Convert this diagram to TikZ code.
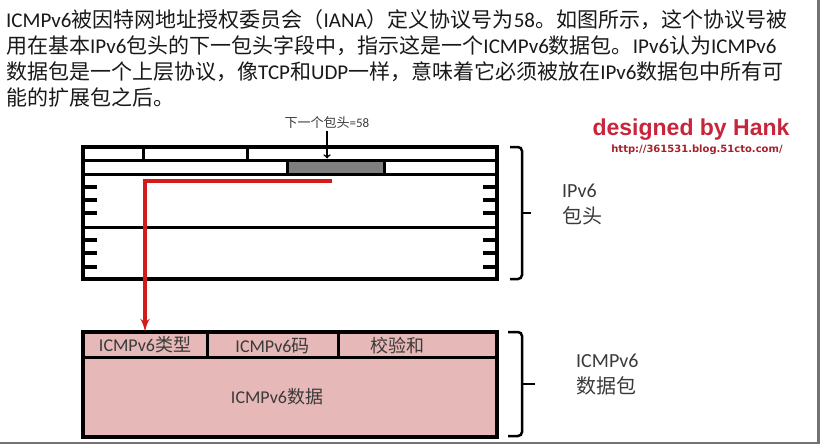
\documentclass[tikz,border=0pt]{standalone}
\usepackage{fontspec}
\setmainfont{Carlito}
\newfontfamily\cjkfont{Noto Sans CJK SC}
\newfontfamily\latfont{Carlito}
\newfontfamily\brandfont{Liberation Sans}
\newfontfamily\urlfont{DejaVu Sans}
\usepackage{tikz}
\usetikzlibrary{arrows}

% switch to the CJK face for Chinese characters, back to Carlito for Latin
\XeTeXinterchartokenstate=1
\chardef\cjkclass=7
\newcount\cjkcnt
\def\setcjkrange#1#2{\cjkcnt=#1 \loop\XeTeXcharclass\cjkcnt=\cjkclass
    \ifnum\cjkcnt<#2 \advance\cjkcnt by 1 \repeat}
\setcjkrange{"3000}{"303F}
\setcjkrange{"4E00}{"9FFF}
\setcjkrange{"FF00}{"FFEF}
\XeTeXinterchartoks 0 \cjkclass = {\cjkfont}
\XeTeXinterchartoks 4095 \cjkclass = {\cjkfont}
\XeTeXinterchartoks \cjkclass 0 = {\latfont}

\definecolor{hdrgray}{HTML}{7F7F7F}
\definecolor{icmppink}{HTML}{E6B8B7}
\definecolor{signalred}{HTML}{D41A1A}
\definecolor{hankred}{HTML}{C8243A}
\definecolor{urlred}{HTML}{A8202E}
\definecolor{lblgray}{HTML}{3A3A3A}

\begin{document}
\begin{tikzpicture} [x = 1pt, y = -1pt,
    boxline/.style = {line width = 4pt},
    ruleline/.style = {line width = 3pt},
    tickmark/.style = {line width = 3.5pt},
    bracket/.style = {line width = 2.5pt, rounded corners = 4pt},
    cell/.style = {inner sep = 0, text = lblgray, font = \fontsize{18}{20}\selectfont},
    sidelabel/.style = {inner sep = 0, anchor = west, align = left, text = lblgray,
        font = \fontsize{20}{26}\selectfont}]
    \useasboundingbox (0, 0) rectangle (821, 447);

    \node[anchor = north west, inner sep = 0, align = left, text = black!90,
        font = \fontsize{21}{26}\selectfont] (intro) at (6, 9)
        {ICMPv6被因特网地址授权委员会（IANA）定义协议号为58。如图所示，这个协议号被\\
         用在基本IPv6包头的下一包头字段中，指示这是一个ICMPv6数据包。IPv6认为ICMPv6\\
         数据包是一个上层协议，像TCP和UDP一样，意味着它必须被放在IPv6数据包中所有可\\
         能的扩展包之后。};

    % IPv6 header
    \draw[boxline] (83, 147) rectangle (497, 279);
    \draw[ruleline] (83, 160) -- (497, 160);
    \draw[ruleline] (83, 174) -- (497, 174);
    \draw[ruleline] (83, 227) -- (497, 227);
    \draw[ruleline] (143, 147) -- (143, 160);
    \draw[ruleline] (247, 147) -- (247, 160);
    \node[draw, ruleline, fill = hdrgray, minimum width = 97pt, minimum height = 14pt,
        inner sep = 0] (nexthdr) at (335.5, 167) {};
    \foreach \y in {187, 200, 213, 240, 253, 267} {
        \draw[tickmark] (83, \y) -- (97, \y);
        \draw[tickmark] (483, \y) -- (497, \y);
    }

    \node[text = lblgray, font = \fontsize{13}{15}\selectfont, inner sep = 2pt]
        (nhlabel) at (327, 123) {下一个包头=58};
    \draw[->, line width = 1.6pt] (nhlabel.south) -- (nhlabel.south |- nexthdr.north);

    % ICMPv6 packet
    \draw[boxline, fill = icmppink] (83, 332) rectangle (497, 437);
    \draw[ruleline] (83, 357) -- (497, 357);
    \draw[ruleline] (207, 332) -- (207, 357);
    \draw[ruleline] (338, 332) -- (338, 357);
    \node[cell, minimum width = 124pt, minimum height = 25pt] (typecell) at (145, 344.5) {ICMPv6类型};
    \node[cell] (codecell) at (272.5, 346) {ICMPv6码};
    \node[cell] (sumcell) at (397, 346) {校验和};
    \node[cell] (datacell) at (277, 397) {ICMPv6数据};

    \coordinate (redstart) at (332, 181);
    \draw[signalred, line width = 3.5pt, -latex'] (redstart) -| (typecell.north);

    % braces and their labels
    \draw[bracket] (510, 147) -| (522, 279) -- (510, 279);
    \draw[bracket] (522, 213) -- (531, 213);
    \node[sidelabel] (hdrlabel) at (562, 205) {IPv6\\包头};
    \draw[bracket] (508, 332) -| (522, 436) -- (508, 436);
    \draw[bracket] (522, 384) -- (535, 384);
    \node[sidelabel] (icmplabel) at (576, 375) {ICMPv6\\数据包};

    \node[text = hankred, font = \fontsize{23}{26}\brandfont\bfseries, inner sep = 0]
        (brand) at (691, 130) {designed by Hank};
    \node[text = urlred, font = \fontsize{10}{12}\urlfont\bfseries, inner sep = 0]
        (blogurl) at (697, 150) {http://361531.blog.51cto.com/};

    \draw[line width = 2.5pt, black!55] (818.5, 0) -- (818.5, 443) -- (0, 443);
\end{tikzpicture}
\end{document}
